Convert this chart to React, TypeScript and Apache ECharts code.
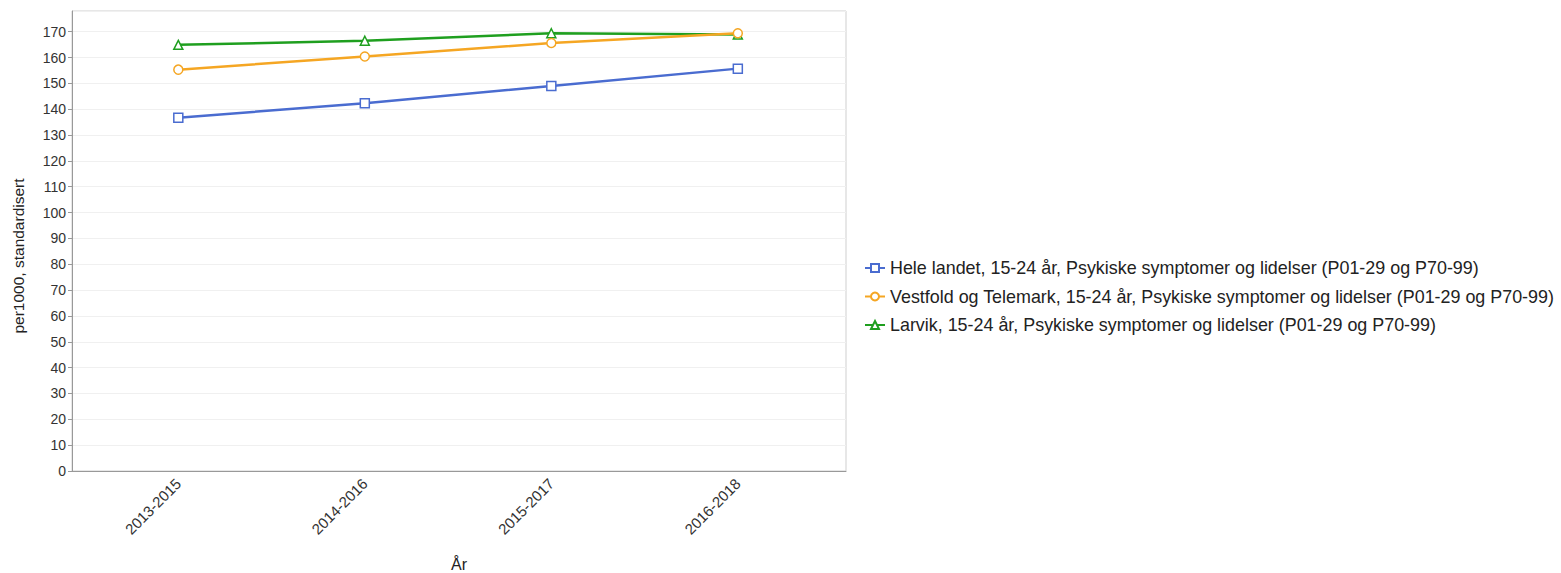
import React, { useEffect, useRef } from "react";
import * as echarts from "echarts";

const categories = ["2013-2015", "2014-2016", "2015-2017", "2016-2018"];
const seriesNames = [
  "Hele landet, 15-24 år, Psykiske symptomer og lidelser (P01-29 og P70-99)",
  "Vestfold og Telemark, 15-24 år, Psykiske symptomer og lidelser (P01-29 og P70-99)",
  "Larvik, 15-24 år, Psykiske symptomer og lidelser (P01-29 og P70-99)",
];
const heleLandet = [136.7, 142.3, 149.0, 155.7];
const vestfold = [155.3, 160.4, 165.6, 169.4];
const larvik = [164.9, 166.5, 169.4, 168.9];
const colors = ["#4a6cd0", "#f5a623", "#1f9f1f"];
const symbols = ["rect", "circle", "triangle"];

export default function App() {
  const ref = useRef<HTMLDivElement>(null);
  useEffect(() => {
    if (!ref.current) return;
    const chart = echarts.init(ref.current, undefined, { renderer: "svg" });
    const values = [heleLandet, vestfold, larvik];
    const font = "Liberation Sans, Arial, sans-serif";
    chart.setOption({
      animation: false,
      textStyle: { fontFamily: font },
      grid: {
        left: 72,
        right: 715,
        top: 11,
        bottom: 102,
        show: true,
        borderColor: "#cfcfcf",
        borderWidth: 1,
        outerBoundsMode: "none",
        containLabel: false,
      },
      legend: {
        orient: "vertical",
        left: 859,
        top: 254,
        itemWidth: 20,
        itemHeight: 10,
        itemGap: 10.5,
        textStyle: { fontSize: 17.9, lineHeight: 18, color: "#222", fontFamily: font },
        data: seriesNames,
      },
      xAxis: {
        type: "value",
        min: -0.57,
        max: 3.58,
        minInterval: 1,
        splitLine: { show: false },
        axisLine: { show: true, lineStyle: { color: "#999" } },
        axisTick: { show: false },
        name: "År",
        nameLocation: "middle",
        nameGap: 85,
        nameTextStyle: { fontSize: 16, color: "#222", fontFamily: font },
        axisLabel: {
          rotate: 45,
          fontSize: 15,
          color: "#333",
          margin: 10,
          showMinLabel: false,
          showMaxLabel: false,
          formatter: (v: number) =>
            Number.isInteger(v) && categories[v] !== undefined ? categories[v] : "",
        },
      },
      yAxis: {
        type: "value",
        min: 0,
        max: 178,
        interval: 10,
        name: "per1000, standardisert",
        nameLocation: "middle",
        nameGap: 46,
        nameTextStyle: {
          fontSize: 15.5,
          color: "#222",
          fontFamily: font,
          padding: [0, 30, 0, 0],
        },
        axisLine: { show: true, onZero: false, lineStyle: { color: "#999" } },
        axisTick: { show: true, length: 4, lineStyle: { color: "#999" } },
        splitLine: { show: true, lineStyle: { color: "#f0f0f0" } },
        axisLabel: {
          fontSize: 14,
          color: "#333",
          margin: 6,
          showMaxLabel: false,
        },
      },
      series: seriesNames.map((name, i) => ({
        name,
        type: "line",
        data: values[i].map((v, j) => [j, v]),
        symbol: symbols[i],
        symbolSize: 9,
        showAllSymbol: true,
        lineStyle: { width: 2.5, color: colors[i] },
        itemStyle: { color: "#fff", borderColor: colors[i], borderWidth: 1.5 },
        z: 3 - i,
      })),
    });
    return () => chart.dispose();
  }, []);
  return (
    <div
      ref={ref}
      style={{ position: "absolute", left: 0, top: 0, width: 1561, height: 573 }}
    />
  );
}
